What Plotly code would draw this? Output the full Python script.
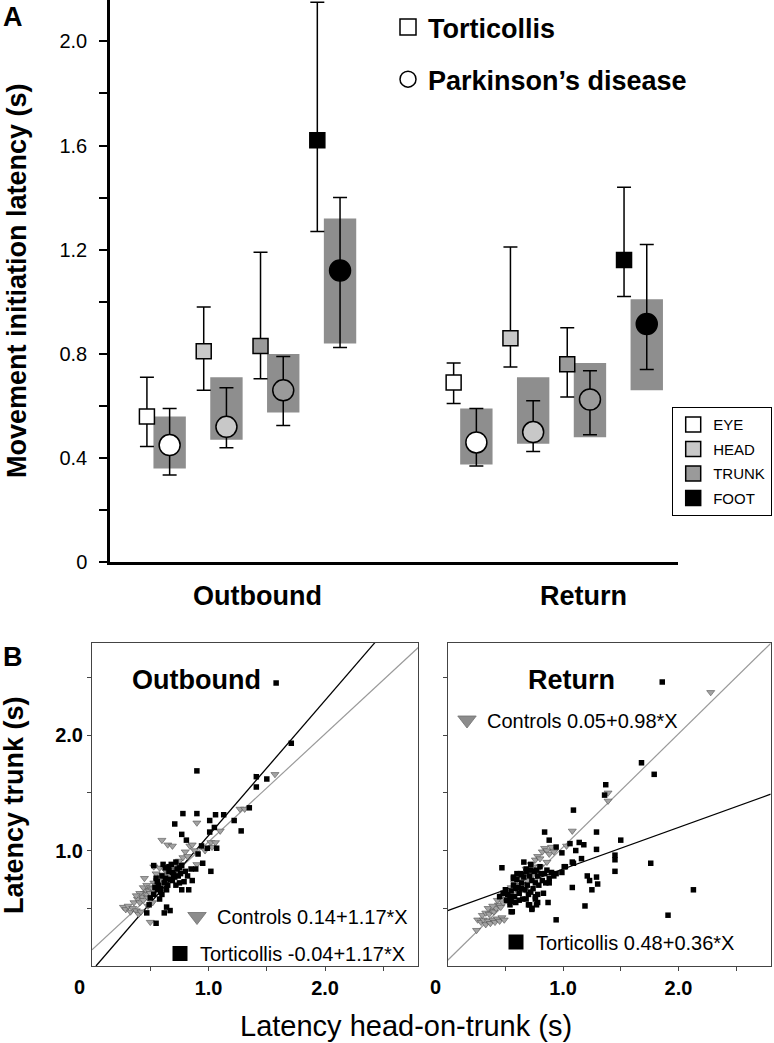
import plotly.graph_objects as go

FONT = "Arial, 'Liberation Sans', Helvetica, sans-serif"
W, H = 774, 1043

# ---------------- Panel A data ----------------
body_parts = ["EYE", "HEAD", "TRUNK", "FOOT"]
direction_labels = ["Outbound", "Return"]

# Torticollis: mean and error-bar ends (per body part)
tort_out_mean = [0.56, 0.81, 0.83, 1.62]
tort_out_hi = [0.71, 0.98, 1.19, 2.15]
tort_out_lo = [0.445, 0.66, 0.705, 1.27]
tort_ret_mean = [0.69, 0.86, 0.76, 1.16]
tort_ret_hi = [0.765, 1.21, 0.90, 1.44]
tort_ret_lo = [0.61, 0.75, 0.635, 1.02]

# Parkinson's disease: mean, error-bar ends, grey range box
pd_out_mean = [0.45, 0.52, 0.66, 1.12]
pd_out_hi = [0.59, 0.67, 0.79, 1.40]
pd_out_lo = [0.335, 0.44, 0.525, 0.825]
pd_out_box_hi = [0.56, 0.71, 0.80, 1.32]
pd_out_box_lo = [0.36, 0.47, 0.575, 0.84]
pd_ret_mean = [0.46, 0.50, 0.625, 0.915]
pd_ret_hi = [0.59, 0.62, 0.735, 1.22]
pd_ret_lo = [0.37, 0.425, 0.49, 0.74]
pd_ret_box_hi = [0.59, 0.71, 0.765, 1.01]
pd_ret_box_lo = [0.375, 0.455, 0.48, 0.66]

y_ticks_a = [0, 0.2, 0.4, 0.6, 0.8, 1.0, 1.2, 1.4, 1.6, 1.8, 2.0]
y_ticktext_a = ["0", "", "0.4", "", "0.8", "", "1.2", "", "1.6", "", "2.0"]

# ---------------- Panel B data ----------------
out_ctrl_x = [0.27, 0.29, 0.31, 0.33, 0.35, 0.38, 0.40, 0.42, 0.36, 0.39, 0.41, 0.43, 0.44, 0.45, 0.47, 0.48,
              0.46, 0.49, 0.50, 0.41, 0.38, 0.44, 0.47, 0.50, 0.52, 0.53, 0.55, 0.56, 0.58, 0.57, 0.60, 0.61,
              0.63, 0.64, 0.66, 0.62, 0.67, 0.69, 0.70, 0.72, 0.74, 0.76, 0.45, 0.50, 0.53, 0.58, 0.60, 0.65,
              0.69, 0.75, 0.80, 0.84, 0.86, 0.90, 0.78, 0.82, 0.88, 0.90, 0.97, 1.02, 1.03, 1.06, 1.10, 1.27,
              1.31, 1.57, 0.55, 0.63, 0.68, 0.71, 0.73, 0.48, 0.52]
out_ctrl_y = [0.51, 0.49, 0.52, 0.47, 0.50, 0.48, 0.45, 0.47, 0.55, 0.58, 0.55, 0.60, 0.57, 0.63, 0.62, 0.59,
              0.66, 0.65, 0.63, 0.63, 0.61, 0.68, 0.70, 0.68, 0.67, 0.72, 0.70, 0.74, 0.72, 0.77, 0.76, 0.79,
              0.78, 0.82, 0.80, 0.84, 0.85, 0.83, 0.87, 0.86, 0.90, 0.88, 0.76, 0.38, 0.86, 0.85, 1.09, 1.05,
              1.04, 0.91, 0.99, 1.04, 1.05, 0.88, 0.94, 0.95, 1.00, 1.24, 1.00, 1.07, 1.03, 1.07, 1.17, 1.36,
              1.36, 1.66, 0.80, 0.74, 0.78, 0.80, 0.83, 0.52, 0.55]
out_tort_x = [1.58, 1.71, 0.90, 1.41, 1.41, 1.50, 1.35, 0.78, 0.90, 1.06, 1.13, 0.71, 1.01, 1.05, 1.22, 1.28,
              1.01, 0.77, 0.81, 0.94, 1.07, 0.99, 0.91, 1.02, 0.89, 0.95, 0.72, 0.53, 0.63, 0.77, 0.85, 0.55,
              0.54, 0.59, 0.62, 0.67, 0.75, 0.79, 0.83, 0.77, 0.64, 0.50, 0.49, 0.47, 0.64, 0.62, 0.67, 0.55,
              0.60, 0.66, 0.70, 0.73, 0.68, 0.74, 0.57, 0.60, 0.65, 0.69, 0.72, 0.58, 0.53, 0.56, 0.80, 0.76,
              0.86, 0.61, 0.82, 0.56, 0.63, 0.71, 0.66, 0.59, 0.75, 0.69]
out_tort_y = [2.45, 1.93, 1.69, 1.64, 1.55, 1.62, 1.37, 1.32, 1.32, 1.31, 1.31, 1.23, 1.26, 1.20, 1.26, 1.17,
              1.16, 1.14, 1.09, 1.04, 1.02, 1.02, 0.97, 0.82, 0.84, 0.89, 0.90, 0.87, 0.85, 0.87, 0.84, 0.76,
              0.68, 0.64, 0.72, 0.75, 0.72, 0.73, 0.66, 0.66, 0.66, 0.59, 0.53, 0.46, 0.51, 0.46, 0.48, 0.37,
              0.78, 0.82, 0.79, 0.84, 0.88, 0.78, 0.70, 0.62, 0.70, 0.74, 0.70, 0.58, 0.62, 0.66, 0.82, 0.80,
              0.74, 0.88, 0.78, 0.73, 0.76, 0.77, 0.86, 0.67, 0.85, 0.81]
ret_ctrl_x = [2.28, 1.39, 1.39, 1.08, 1.03, 0.25, 0.26, 0.29, 0.31, 0.33, 0.35, 0.37, 0.39, 0.41, 0.43, 0.45,
              0.47, 0.49, 0.30, 0.33, 0.36, 0.38, 0.40, 0.42, 0.44, 0.46, 0.48, 0.50, 0.52, 0.54, 0.35, 0.39,
              0.43, 0.47, 0.51, 0.55, 0.58, 0.60, 0.62, 0.64, 0.66, 0.68, 0.70, 0.72, 0.74, 0.76, 0.78, 0.80,
              0.82, 0.84, 0.86, 0.88, 0.90, 0.92, 0.57, 0.63, 0.69, 0.73, 0.80, 0.86, 0.60, 0.67, 0.75]
ret_ctrl_y = [2.37, 1.50, 1.43, 1.17, 1.04, 0.31, 0.40, 0.38, 0.40, 0.36, 0.39, 0.37, 0.40, 0.38, 0.41, 0.39,
              0.42, 0.40, 0.44, 0.46, 0.45, 0.48, 0.47, 0.50, 0.53, 0.51, 0.55, 0.58, 0.56, 0.60, 0.50, 0.52,
              0.57, 0.61, 0.64, 0.68, 0.72, 0.70, 0.76, 0.80, 0.78, 0.84, 0.82, 0.88, 0.86, 0.92, 0.95, 0.93,
              0.99, 1.02, 1.00, 0.97, 1.03, 0.99, 0.62, 0.70, 0.74, 0.78, 0.86, 0.90, 0.66, 0.66, 0.74]
ret_tort_x = [1.86, 1.68, 1.79, 1.37, 1.36, 1.09, 0.84, 1.29, 0.88, 1.06, 1.14, 1.18, 1.50, 1.29, 0.94, 0.99,
              1.11, 1.16, 1.45, 1.45, 1.76, 1.45, 1.08, 1.02, 0.99, 1.21, 1.23, 1.29, 1.30, 1.25, 1.08, 2.13,
              0.87, 1.19, 1.91, 0.94, 0.47, 0.77, 0.73, 0.70, 0.56, 0.52, 0.55, 0.57, 0.58, 0.60, 0.61, 0.62,
              0.63, 0.64, 0.65, 0.66, 0.67, 0.68, 0.69, 0.70, 0.71, 0.72, 0.73, 0.74, 0.75, 0.76, 0.78, 0.79,
              0.80, 0.82, 0.84, 0.86, 0.88, 0.90, 0.92, 0.55, 0.59, 0.54, 0.62, 0.68, 0.66, 0.72, 0.76, 0.78,
              0.83, 0.59, 0.64, 0.57, 0.50, 0.57, 0.60, 0.64, 0.68, 0.72, 0.77, 0.81, 0.85, 0.88, 0.94, 1.01,
              1.09, 0.45, 0.48, 0.51, 0.54, 0.55, 0.71, 0.73, 0.78, 0.76]
ret_tort_y = [2.46, 1.76, 1.66, 1.57, 1.48, 1.35, 1.16, 1.16, 1.09, 1.06, 1.07, 1.05, 1.09, 1.01, 1.03, 0.98,
              1.00, 0.93, 0.96, 0.92, 0.89, 0.82, 0.90, 0.86, 0.81, 0.78, 0.74, 0.77, 0.71, 0.66, 0.68, 0.66,
              0.55, 0.52, 0.44, 0.40, 0.85, 0.53, 0.50, 0.53, 0.47, 0.62, 0.65, 0.70, 0.60, 0.75, 0.68, 0.63,
              0.80, 0.72, 0.58, 0.77, 0.66, 0.84, 0.70, 0.62, 0.78, 0.88, 0.74, 0.67, 0.82, 0.60, 0.78, 0.70,
              0.86, 0.74, 0.80, 0.83, 0.76, 0.81, 0.78, 0.56, 0.55, 0.60, 0.57, 0.58, 0.90, 0.64, 0.72, 0.62,
              0.63, 0.67, 0.67, 0.76, 0.66, 0.77, 0.80, 0.79, 0.82, 0.83, 0.83, 0.80, 0.72, 0.72, 0.80, 0.86,
              0.89, 0.60, 0.63, 0.57, 0.53, 0.47, 0.53, 0.49, 0.55, 0.58]

# regression lines as drawn: [intercept, slope]
out_ctrl_line = [0.14, 0.935]
out_tort_line = [-0.04, 1.17]
ret_ctrl_line = [0.05, 0.98]
ret_tort_line = [0.48, 0.36]
out_ctrl_label = "Controls 0.14+1.17*X"
out_tort_label = "Torticollis -0.04+1.17*X"
ret_ctrl_label = "Controls 0.05+0.98*X"
ret_tort_label = "Torticollis 0.48+0.36*X"

b_ticks = [0.5, 1.0, 1.5, 2.0, 2.5]
b_ticktext = ["", "1.0", "", "2.0", ""]

# ---------------- styles ----------------
part_fill = ["#ffffff", "#c8c8c8", "#9a9a9a", "#000000"]
BOX_GREY = "#8e8e8e"
CTRL_GREY = "#a3a3a3"


def px(p):
    return p / W


def py(p):
    return 1 - p / H


fig = go.Figure()

# Panel A positions (layout, computed from indices)
group_start = [6.5, 60.5]
step = 10
pd_shift = 4

tort_mean = [tort_out_mean, tort_ret_mean]
tort_hi = [tort_out_hi, tort_ret_hi]
tort_lo = [tort_out_lo, tort_ret_lo]
pd_mean = [pd_out_mean, pd_ret_mean]
pd_hi = [pd_out_hi, pd_ret_hi]
pd_lo = [pd_out_lo, pd_ret_lo]
box_hi = [pd_out_box_hi, pd_ret_box_hi]
box_lo = [pd_out_box_lo, pd_ret_box_lo]

# grey range boxes for Parkinson's disease
bx, bh, bb = [], [], []
for g in range(2):
    for i in range(4):
        bx.append(group_start[g] + i * step + pd_shift)
        bh.append(box_hi[g][i] - box_lo[g][i])
        bb.append(box_lo[g][i])
fig.add_trace(go.Bar(x=bx, y=bh, base=bb, width=5.7, marker=dict(color=BOX_GREY, line=dict(width=0)),
                     showlegend=False, hoverinfo="skip", xaxis="x", yaxis="y"))

for i, part in enumerate(body_parts):
    xs_t = [group_start[g] + i * step for g in range(2)]
    xs_p = [x + pd_shift for x in xs_t]
    ym = [tort_mean[g][i] for g in range(2)]
    yp = [tort_hi[g][i] - tort_mean[g][i] for g in range(2)]
    yn = [tort_mean[g][i] - tort_lo[g][i] for g in range(2)]
    fig.add_trace(go.Scatter(
        x=xs_t, y=ym, mode="markers", name=part, legend="legend", legendgroup=part,
        marker=dict(symbol="square", size=15, color=part_fill[i], line=dict(color="black", width=1.5)),
        error_y=dict(type="data", symmetric=False, array=yp, arrayminus=yn, color="black",
                     thickness=1.5, width=7),
        xaxis="x", yaxis="y", cliponaxis=False))
    pm = [pd_mean[g][i] for g in range(2)]
    pp = [pd_hi[g][i] - pd_mean[g][i] for g in range(2)]
    pn = [pd_mean[g][i] - pd_lo[g][i] for g in range(2)]
    fig.add_trace(go.Scatter(
        x=xs_p, y=pm, mode="markers", name=part, legendgroup=part, showlegend=False,
        marker=dict(symbol="circle", size=21, color=part_fill[i], line=dict(color="black", width=1.5)),
        error_y=dict(type="data", symmetric=False, array=pp, arrayminus=pn, color="black",
                     thickness=1.5, width=7),
        xaxis="x", yaxis="y", cliponaxis=False))

# disease legend (legend2)
fig.add_trace(go.Scatter(x=[None], y=[None], mode="markers", name="Torticollis", legend="legend2",
                         legendgroup="t", marker=dict(symbol="square-open", size=16, color="black",
                                                      line=dict(width=1.5))))
fig.add_trace(go.Scatter(x=[None], y=[None], mode="markers", name="Parkinson\u2019s disease", legend="legend2",
                         legendgroup="p", marker=dict(symbol="circle-open", size=16, color="black",
                                                      line=dict(width=1.5))))


# Panel B
def line_xy(params):
    b, m = params
    x0 = max(0.0, -b / m)
    x1 = min(2.8, (2.8 - b) / m)
    return [x0, x1], [b + m * x0, b + m * x1]


for (cx, cy, tx, ty, cl, tl, clab, tlab, xa, ya, lg_c, lg_t) in [
    (out_ctrl_x, out_ctrl_y, out_tort_x, out_tort_y, out_ctrl_line, out_tort_line, out_ctrl_label,
     out_tort_label, "x2", "y2", "legend3", "legend4"),
    (ret_ctrl_x, ret_ctrl_y, ret_tort_x, ret_tort_y, ret_ctrl_line, ret_tort_line, ret_ctrl_label,
     ret_tort_label, "x3", "y3", "legend5", "legend6"),
]:
    lx, ly = line_xy(cl)
    fig.add_trace(go.Scatter(x=lx, y=ly, mode="lines", line=dict(color="#9a9a9a", width=1.2),
                             showlegend=False, xaxis=xa, yaxis=ya, hoverinfo="skip"))
    lx, ly = line_xy(tl)
    fig.add_trace(go.Scatter(x=lx, y=ly, mode="lines", line=dict(color="black", width=1.3),
                             showlegend=False, xaxis=xa, yaxis=ya, hoverinfo="skip"))
    fig.add_trace(go.Scatter(x=cx, y=cy, mode="markers", showlegend=False, xaxis=xa, yaxis=ya,
                             marker=dict(symbol="triangle-down", size=7, color=CTRL_GREY,
                                         line=dict(color="#505050", width=0.6))))
    fig.add_trace(go.Scatter(x=tx, y=ty, mode="markers", showlegend=False, xaxis=xa, yaxis=ya,
                             marker=dict(symbol="square", size=5.5, color="black")))
    fig.add_trace(go.Scatter(x=[None], y=[None], mode="markers", name=clab, legend=lg_c, xaxis=xa, yaxis=ya,
                             marker=dict(symbol="triangle-down", size=16, color="#8c8c8c",
                                         line=dict(color="#707070", width=0.8))))
    fig.add_trace(go.Scatter(x=[None], y=[None], mode="markers", name=tlab, legend=lg_t, xaxis=xa, yaxis=ya,
                             marker=dict(symbol="square", size=15, color="black")))

# ---------------- layout ----------------
b_axis_common = dict(range=[0, 2.8], showline=True, mirror=True, linecolor="#444", linewidth=1,
                     ticks="outside", ticklen=4, tickcolor="#444", tickvals=b_ticks, ticktext=b_ticktext,
                     tickfont=dict(family=FONT, size=20, color="black", weight="bold"),
                     showgrid=False, zeroline=False, fixedrange=True, automargin=False)

legend_common = dict(bgcolor="rgba(0,0,0,0)", borderwidth=0, xanchor="left", yanchor="top",
                     font=dict(family=FONT, size=20, color="black"), itemclick=False, itemdoubleclick=False)

fig.update_layout(
    template="none",
    width=W, height=H, margin=dict(l=0, r=0, t=0, b=0, autoexpand=False),
    paper_bgcolor="white", plot_bgcolor="white", barmode="overlay",
    font=dict(family=FONT, color="black"),
    xaxis=dict(domain=[px(110), px(678)], range=[0, 100], showline=True, linecolor="black", linewidth=2.5,
               showticklabels=False, ticks="", showgrid=False, zeroline=False, fixedrange=True, anchor="y",
               automargin=False),
    yaxis=dict(domain=[py(562.3), 1.0], range=[0, 562.3 / 260.5], showline=True, linecolor="black",
               linewidth=2.5, ticks="outside", ticklen=8, tickwidth=1.5, tickcolor="black",
               tickvals=y_ticks_a, ticktext=y_ticktext_a, ticklabelstandoff=8,
               tickfont=dict(family=FONT, size=20, color="black"),
               showgrid=False, zeroline=False, fixedrange=True, anchor="x", automargin=False),
    xaxis2=dict(domain=[px(92), px(418.3)], anchor="y2", **b_axis_common),
    yaxis2=dict(domain=[py(966), py(642.7)], anchor="x2", **b_axis_common),
    xaxis3=dict(domain=[px(447.7), px(770.7)], anchor="y3", **b_axis_common),
    yaxis3=dict(domain=[py(966), py(642.7)], anchor="x3", **{**b_axis_common, "showticklabels": False}),
    legend=dict(x=px(772), y=py(407), xanchor="right", yanchor="top", bgcolor="white",
                bordercolor="black", borderwidth=1.2, font=dict(family=FONT, size=15, color="black"),
                tracegroupgap=2, itemclick=False, itemdoubleclick=False),
    legend2=dict(x=px(388), y=py(3), tracegroupgap=14,
                 **{**legend_common, "font": dict(family=FONT, size=27, color="black", weight="bold")}),
    legend3=dict(x=px(177), y=py(897), **legend_common),
    legend4=dict(x=px(160), y=py(934), **legend_common),
    legend5=dict(x=px(447), y=py(700.5), **legend_common),
    legend6=dict(x=px(496), y=py(922.5), **legend_common),
)

annotations = [
    dict(text="<b>A</b>", x=px(13), y=py(17)),
    dict(text="<b>B</b>", x=px(13), y=py(657)),
    dict(text="<b>Movement initiation latency (s)</b>", x=px(17), y=py(281), textangle=-90),
    dict(text="<b>Outbound</b>", x=px(196), y=py(680)),
    dict(text="<b>Return</b>", x=px(571.7), y=py(680)),
    dict(text="<b>Latency trunk (s)</b>", x=px(14), y=py(805), textangle=-90),
]
for a in annotations:
    fig.add_annotation(xref="paper", yref="paper", showarrow=False, xanchor="center", yanchor="middle",
                       font=dict(family=FONT, size=27, color="black"), **a)

for lbl, xv in zip(direction_labels, [25.9, 83.3]):
    fig.add_annotation(text=f"<b>{lbl}</b>", xref="x", yref="paper", x=xv, y=py(596), showarrow=False,
                       xanchor="center", yanchor="middle", font=dict(family=FONT, size=27, color="black"))

fig.add_annotation(text="Latency head-on-trunk (s)", xref="paper", yref="paper", x=px(406), y=py(1026),
                   showarrow=False, xanchor="center", yanchor="middle",
                   font=dict(family=FONT, size=29, color="black"))
for xz in [79, 435]:
    fig.add_annotation(text="<b>0</b>", xref="paper", yref="paper", x=px(xz), y=py(987), showarrow=False,
                       xanchor="center", yanchor="middle", font=dict(family=FONT, size=20, color="black"))

fig.write_html(
    "out.html",
    config={"displayModeBar": False, "staticPlot": False},
    post_script="document.body.style.margin='0';document.body.style.overflow='hidden';"
                "window.dispatchEvent(new Event('resize'));",
)
